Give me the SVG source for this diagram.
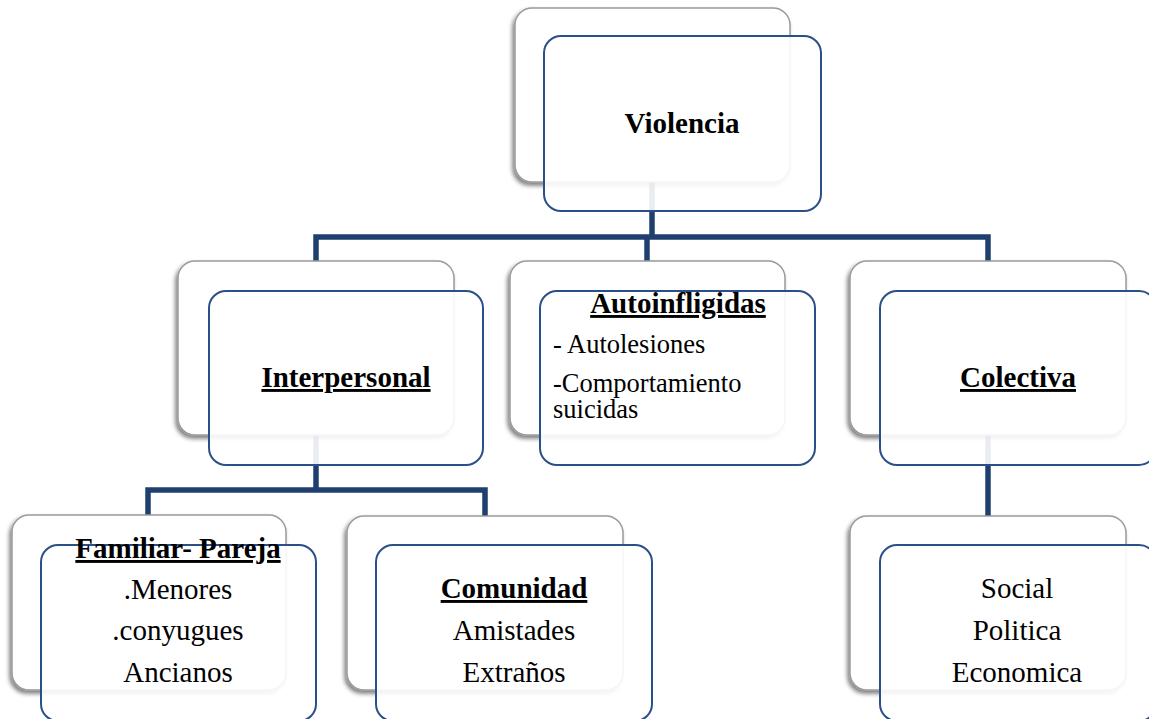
<svg xmlns="http://www.w3.org/2000/svg" width="1149" height="719" viewBox="0 0 1149 719">
<defs>
<filter id="sh" x="-10%" y="-10%" width="120%" height="125%">
<feDropShadow dx="-2" dy="3" stdDeviation="2" flood-color="#000" flood-opacity="0.5"/>
</filter>
<style>
.back{fill:#fff;stroke:#9a9a9a;stroke-width:1.5;filter:url(#sh)}
.front{fill:#fff;fill-opacity:0.9;stroke:#2b5089;stroke-width:2}
.conn{fill:none;stroke:#1f3f6e;stroke-width:5.5;stroke-linejoin:miter}
.h{font-weight:bold;font-size:29px;text-anchor:middle}
.u{text-decoration:underline}
.b{font-size:29px;text-anchor:middle}
.s{font-size:26.5px}
</style>
</defs>
<rect width="1149" height="719" fill="#fff"/>
<g id="connectors">
<path class="conn" d="M652,100 V237"/>
<path class="conn" d="M316,262 V237 H988 V262"/>
<path class="conn" d="M647,237 V262"/>
<path class="conn" d="M316,380 V490"/>
<path class="conn" d="M148,516 V490 H485 V516"/>
<path class="conn" d="M988,380 V516"/>
</g>
<g font-family="Liberation Serif, serif" fill="#000">
<g id="violencia">
<rect class="back" x="515" y="8" width="275" height="174" rx="17"/>
<rect class="front" x="544" y="36" width="277" height="175" rx="17"/>
<text class="h" x="682" y="133" font-size="30">Violencia</text>
</g>
<g id="interpersonal">
<rect class="back" x="178" y="261" width="276" height="174" rx="17"/>
<rect class="front" x="209" y="291" width="274" height="174" rx="17"/>
<text class="h u" x="346" y="387">Interpersonal</text>
</g>
<g id="autoinfligidas">
<rect class="back" x="510" y="261" width="275" height="174" rx="17"/>
<rect class="front" x="540" y="291" width="275" height="174" rx="17"/>
<text class="h u" x="678" y="313">Autoinfligidas</text>
<text class="s" x="553" y="353">- Autolesiones</text>
<text class="s" x="553" y="392">-Comportamiento</text>
<text class="s" x="553" y="418">suicidas</text>
</g>
<g id="colectiva">
<rect class="back" x="850" y="261" width="276" height="174" rx="17"/>
<rect class="front" x="880" y="291" width="276" height="174" rx="17"/>
<text class="h u" x="1018" y="387">Colectiva</text>
</g>
<g id="familiar">
<rect class="back" x="12" y="515" width="274" height="175" rx="17"/>
<rect class="front" x="41" y="545" width="275" height="176" rx="17"/>
<text class="h u" x="178" y="558">Familiar- Pareja</text>
<text class="b" x="178" y="599">.Menores</text>
<text class="b" x="178" y="640">.conyugues</text>
<text class="b" x="178" y="682">Ancianos</text>
</g>
<g id="comunidad">
<rect class="back" x="347" y="516" width="276" height="174" rx="17"/>
<rect class="front" x="376" y="545" width="276" height="176" rx="17"/>
<text class="h u" x="514" y="598">Comunidad</text>
<text class="b" x="514" y="640">Amistades</text>
<text class="b" x="514" y="682">Extraños</text>
</g>
<g id="social">
<rect class="back" x="850" y="516" width="276" height="174" rx="17"/>
<rect class="front" x="880" y="545" width="276" height="176" rx="17"/>
<text class="b" x="1017" y="598">Social</text>
<text class="b" x="1017" y="640">Politica</text>
<text class="b" x="1017" y="682">Economica</text>
</g>
</g>
</svg>
